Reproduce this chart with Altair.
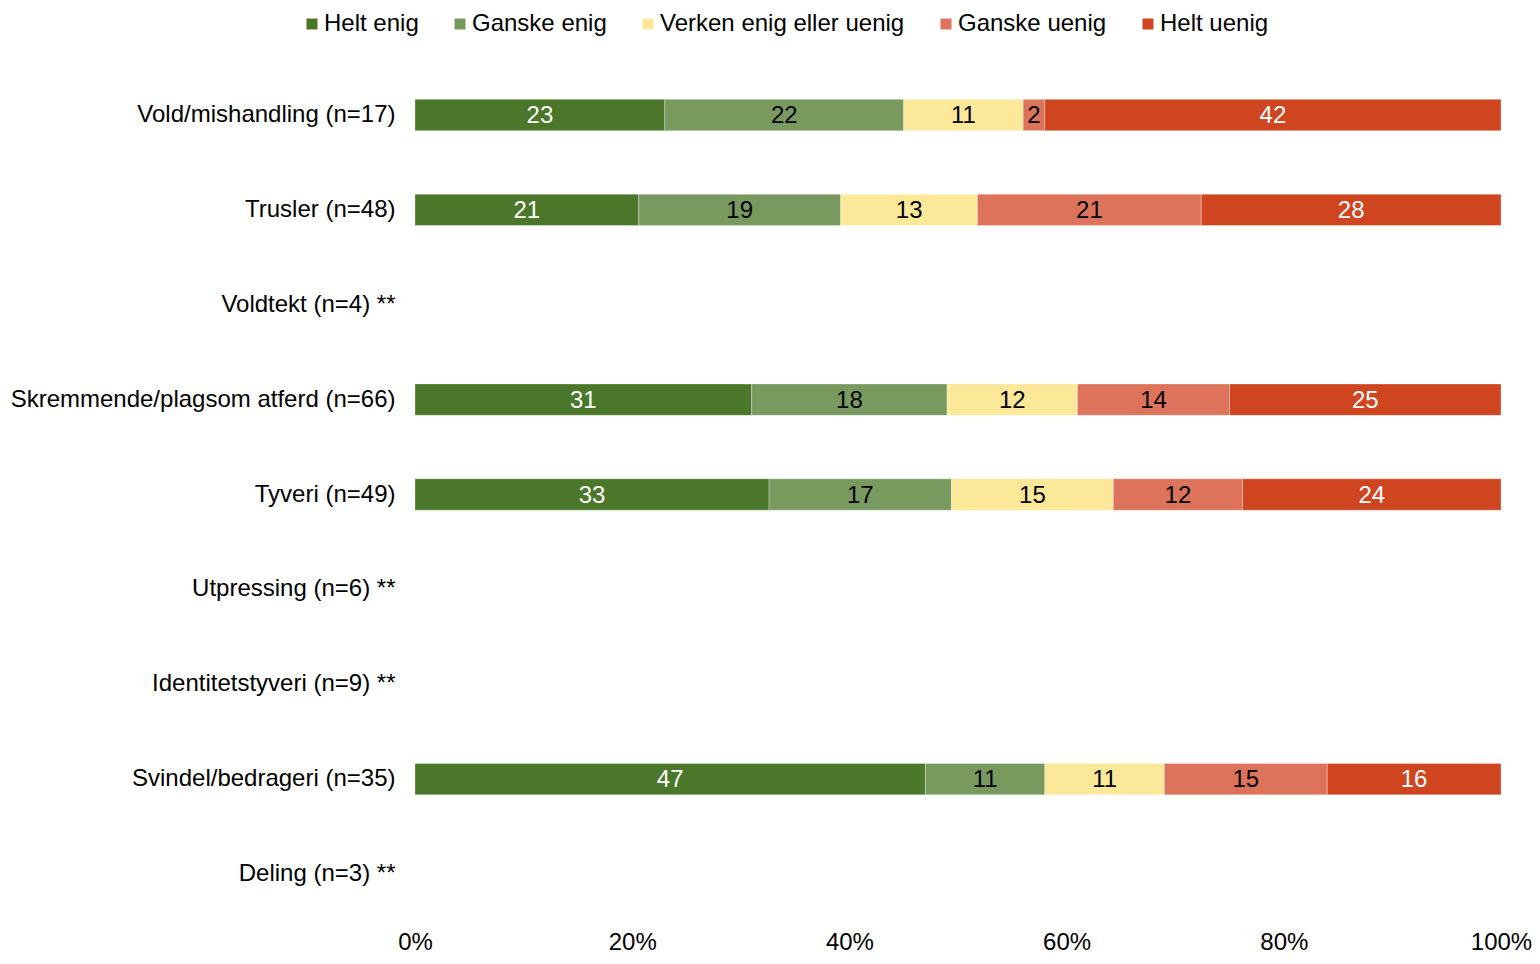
import altair as alt
import pandas as pd

categories = [
    "Vold/mishandling (n=17)",
    "Trusler (n=48)",
    "Voldtekt (n=4) **",
    "Skremmende/plagsom atferd (n=66)",
    "Tyveri (n=49)",
    "Utpressing (n=6) **",
    "Identitetstyveri (n=9) **",
    "Svindel/bedrageri (n=35)",
    "Deling (n=3) **",
]
levels = ["Helt enig", "Ganske enig", "Verken enig eller uenig", "Ganske uenig", "Helt uenig"]
colors = ["#4A7729", "#789A5F", "#FBE899", "#DC735A", "#CF4520"]

helt_enig = [23, 20.6, None, 31, 32.6, None, None, 47, None]
ganske_enig = [22, 18.6, None, 18, 16.8, None, None, 11, None]
verken = [11, 12.6, None, 12, 14.9, None, None, 11, None]
ganske_uenig = [2, 20.6, None, 14, 11.9, None, None, 15, None]
helt_uenig = [42, 27.6, None, 25, 23.8, None, None, 16, None]

series = [helt_enig, ganske_enig, verken, ganske_uenig, helt_uenig]
rows = []
for li, (lev, vals) in enumerate(zip(levels, series)):
    for cat, v in zip(categories, vals):
        if v is not None:
            rows.append({"category": cat, "level": lev, "order": li, "value": v})
df = pd.DataFrame(rows)

FONT = "Liberation Sans"

y_enc = alt.Y(
    "category:N",
    sort=categories,
    scale=alt.Scale(domain=categories, paddingInner=0.67, paddingOuter=0.3304),
    axis=alt.Axis(title=None, ticks=False, domain=False, labelFontSize=24,
                  labelPadding=20, labelColor="black", labelLimit=0, labelFont=FONT),
)

bars = alt.Chart(df).mark_bar(stroke="white", strokeWidth=0.6, strokeOpacity=0.5).encode(
    x=alt.X(
        "value:Q",
        stack="zero",
        scale=alt.Scale(domain=[0, 100], nice=False),
        axis=alt.Axis(title=None, values=[0, 20, 40, 60, 80, 100],
                      labelExpr="datum.value + '%'", ticks=False, domain=False,
                      grid=False, labelFontSize=24, labelPadding=9,
                      labelColor="black", labelFlush=False, labelFont=FONT),
    ),
    y=y_enc,
    color=alt.Color(
        "level:N",
        scale=alt.Scale(domain=levels, range=colors),
        legend=alt.Legend(
            orient="none", legendX=-115, legendY=-56, direction="horizontal",
            columns=5, title=None, symbolType="square", symbolSize=121,
            symbolStrokeWidth=0, labelFontSize=24, labelOffset=0,
            columnPadding=29, padding=0, labelColor="black", labelLimit=0,
            labelFont=FONT,
        ),
    ),
    order=alt.Order("order:Q"),
)

labels = alt.Chart(df).transform_stack(
    stack="value", groupby=["category"], as_=["x0", "x1"],
    sort=[alt.SortField("order", order="ascending")],
).transform_calculate(
    mid="(datum.x0 + datum.x1) / 2",
    label="format(datum.value, '.0f')",
).mark_text(fontSize=24, font=FONT, baseline="middle", dy=1).encode(
    x=alt.X("mid:Q"),
    y=alt.Y("category:N", sort=categories),
    text="label:N",
    color=alt.condition(
        "datum.level == 'Helt enig' || datum.level == 'Helt uenig'",
        alt.value("white"),
        alt.value("black"),
    ),
)

chart = alt.layer(bars, labels).properties(
    width=1086,
    height=853,
    autosize=alt.AutoSizeParams(type="none"),
    padding={"left": 407, "top": 60, "right": 31, "bottom": 32},
).configure_view(stroke=None)

chart.save("out.html", embed_options={"renderer": "svg", "actions": False})
